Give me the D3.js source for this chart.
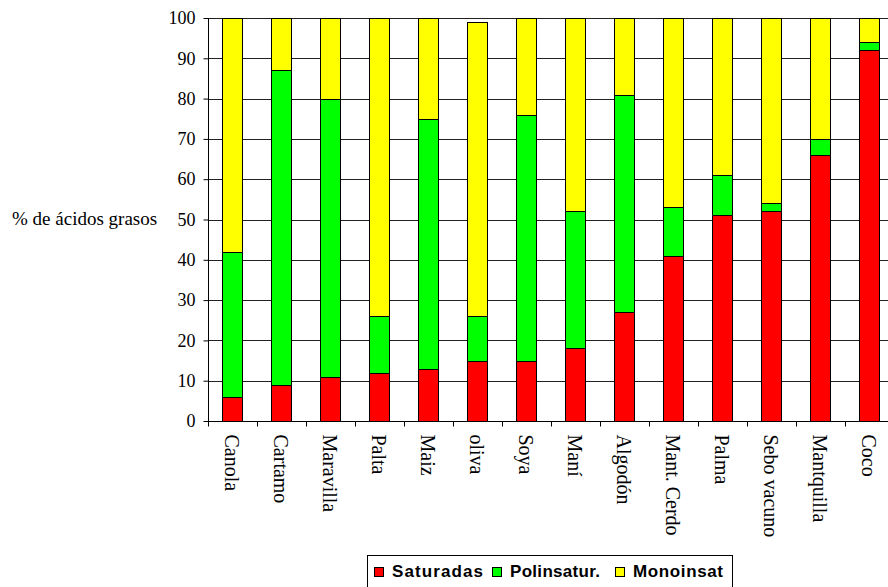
<!DOCTYPE html>
<html><head><meta charset="utf-8">
<script src="https://cdn.jsdelivr.net/npm/d3@7"></script>
<style>body{margin:0;background:#fff;}svg{display:block;}</style>
</head><body>
<svg id="c" width="888" height="587"></svg>
<script>
const categories = ["Canola","Cartamo","Maravilla","Palta","Maiz","oliva","Soya","Maní","Algodón","Mant. Cerdo","Palma","Sebo vacuno","Mantquilla","Coco"];
const saturadas  = [6, 9, 11, 12, 13, 15, 15, 18, 27, 41, 51, 52, 66, 92];
const polinsatur = [36, 78, 69, 14, 62, 11, 61, 34, 54, 12, 10, 2, 4, 2];
const monoinsat  = [58, 13, 20, 74, 25, 73, 24, 48, 19, 47, 39, 46, 30, 6];
const seriesNames = ["Saturadas","Polinsatur.","Monoinsat"];
const seriesColors = ["#ff0000","#00ff00","#ffff00"];
const yTicks = [0,10,20,30,40,50,60,70,80,90,100];

const svg = d3.select("#c");
const L = 208, R = 894, T = 18, B = 421;
const x = d3.scaleBand().domain(categories).range([L, R]).padding(0);
const y = d3.scaleLinear().domain([0,100]).range([B, T]);

// gridlines
svg.append("g").selectAll("line").data(yTicks.filter(d=>d>0)).join("line")
  .attr("x1", L).attr("x2", 888).attr("y1", d=>Math.round(y(d))+0.5).attr("y2", d=>Math.round(y(d))+0.5)
  .attr("stroke", "#222").attr("stroke-width", 1);

const table = categories.map((c,i)=>({cat:c, Saturadas:saturadas[i], "Polinsatur.":polinsatur[i], Monoinsat:monoinsat[i]}));
const stack = d3.stack().keys(seriesNames)(table);
const bw = x.step()*0.41;
svg.append("g").selectAll("g").data(stack).join("g")
  .attr("fill", (d,i)=>seriesColors[i])
  .selectAll("rect").data(d=>d).join("rect")
  .attr("x", d=>Math.round(x(d.data.cat) + x.step()/2 - bw/2)+0.5)
  .attr("width", Math.round(bw))
  .attr("y", d=>Math.round(y(d[1]))+0.5)
  .attr("height", d=>Math.round(y(d[0]))-Math.round(y(d[1])))
  .attr("stroke", "#000").attr("stroke-width", 1);

// y axis
const ya = svg.append("g").attr("transform", `translate(${L+0.5},0)`)
  .call(d3.axisLeft(y).tickValues(yTicks).tickSize(5).tickPadding(8).tickFormat(d3.format("d")));
ya.select(".domain").attr("d", `M0,${T}V${B+0.5}`).attr("stroke","#000");
ya.selectAll(".tick line").attr("stroke","#000");
ya.selectAll(".tick text").attr("font-family","Liberation Serif").attr("font-size",18).attr("fill","#000");

// x axis
const xa = svg.append("g").attr("transform", `translate(0,${B+0.5})`);
xa.append("line").attr("x1",L).attr("x2",888).attr("stroke","#000");
xa.selectAll("line.t").data(categories).join("line").attr("class","t")
  .attr("x1", d=>Math.round(x(d))+0.5).attr("x2", d=>Math.round(x(d))+0.5)
  .attr("y1",0).attr("y2",5).attr("stroke","#000");
xa.selectAll("text").data(categories).join("text")
  .attr("transform", d=>`translate(${x(d)+x.step()/2-7.5},13) rotate(90)`)
  .attr("font-family","Liberation Serif").attr("font-size",20).attr("fill","#000")
  .text(d=>d);

// y title
svg.append("text").attr("x", 12).attr("y", 225)
  .attr("font-family","Liberation Serif").attr("font-size",19).attr("fill","#000")
  .text("% de ácidos grasos");

// legend
const lg = svg.append("g");
lg.append("rect").attr("x",367.5).attr("y",555.5).attr("width",365).attr("height",40)
  .attr("fill","#fff").attr("stroke","#000");
const legX = [374, 492, 615];
const legW = [91, 90, 90];
seriesNames.forEach((n,i)=>{
  lg.append("rect").attr("x",legX[i]+0.5).attr("y",567.5).attr("width",9).attr("height",9)
    .attr("fill",seriesColors[i]).attr("stroke","#000");
  lg.append("text").attr("x",legX[i]+18).attr("y",577)
    .attr("font-family","Liberation Sans").attr("font-weight","bold").attr("font-size",17).attr("fill","#000")
    .attr("textLength", legW[i]).attr("lengthAdjust","spacing")
    .text(n);
});
</script>
</body></html>
